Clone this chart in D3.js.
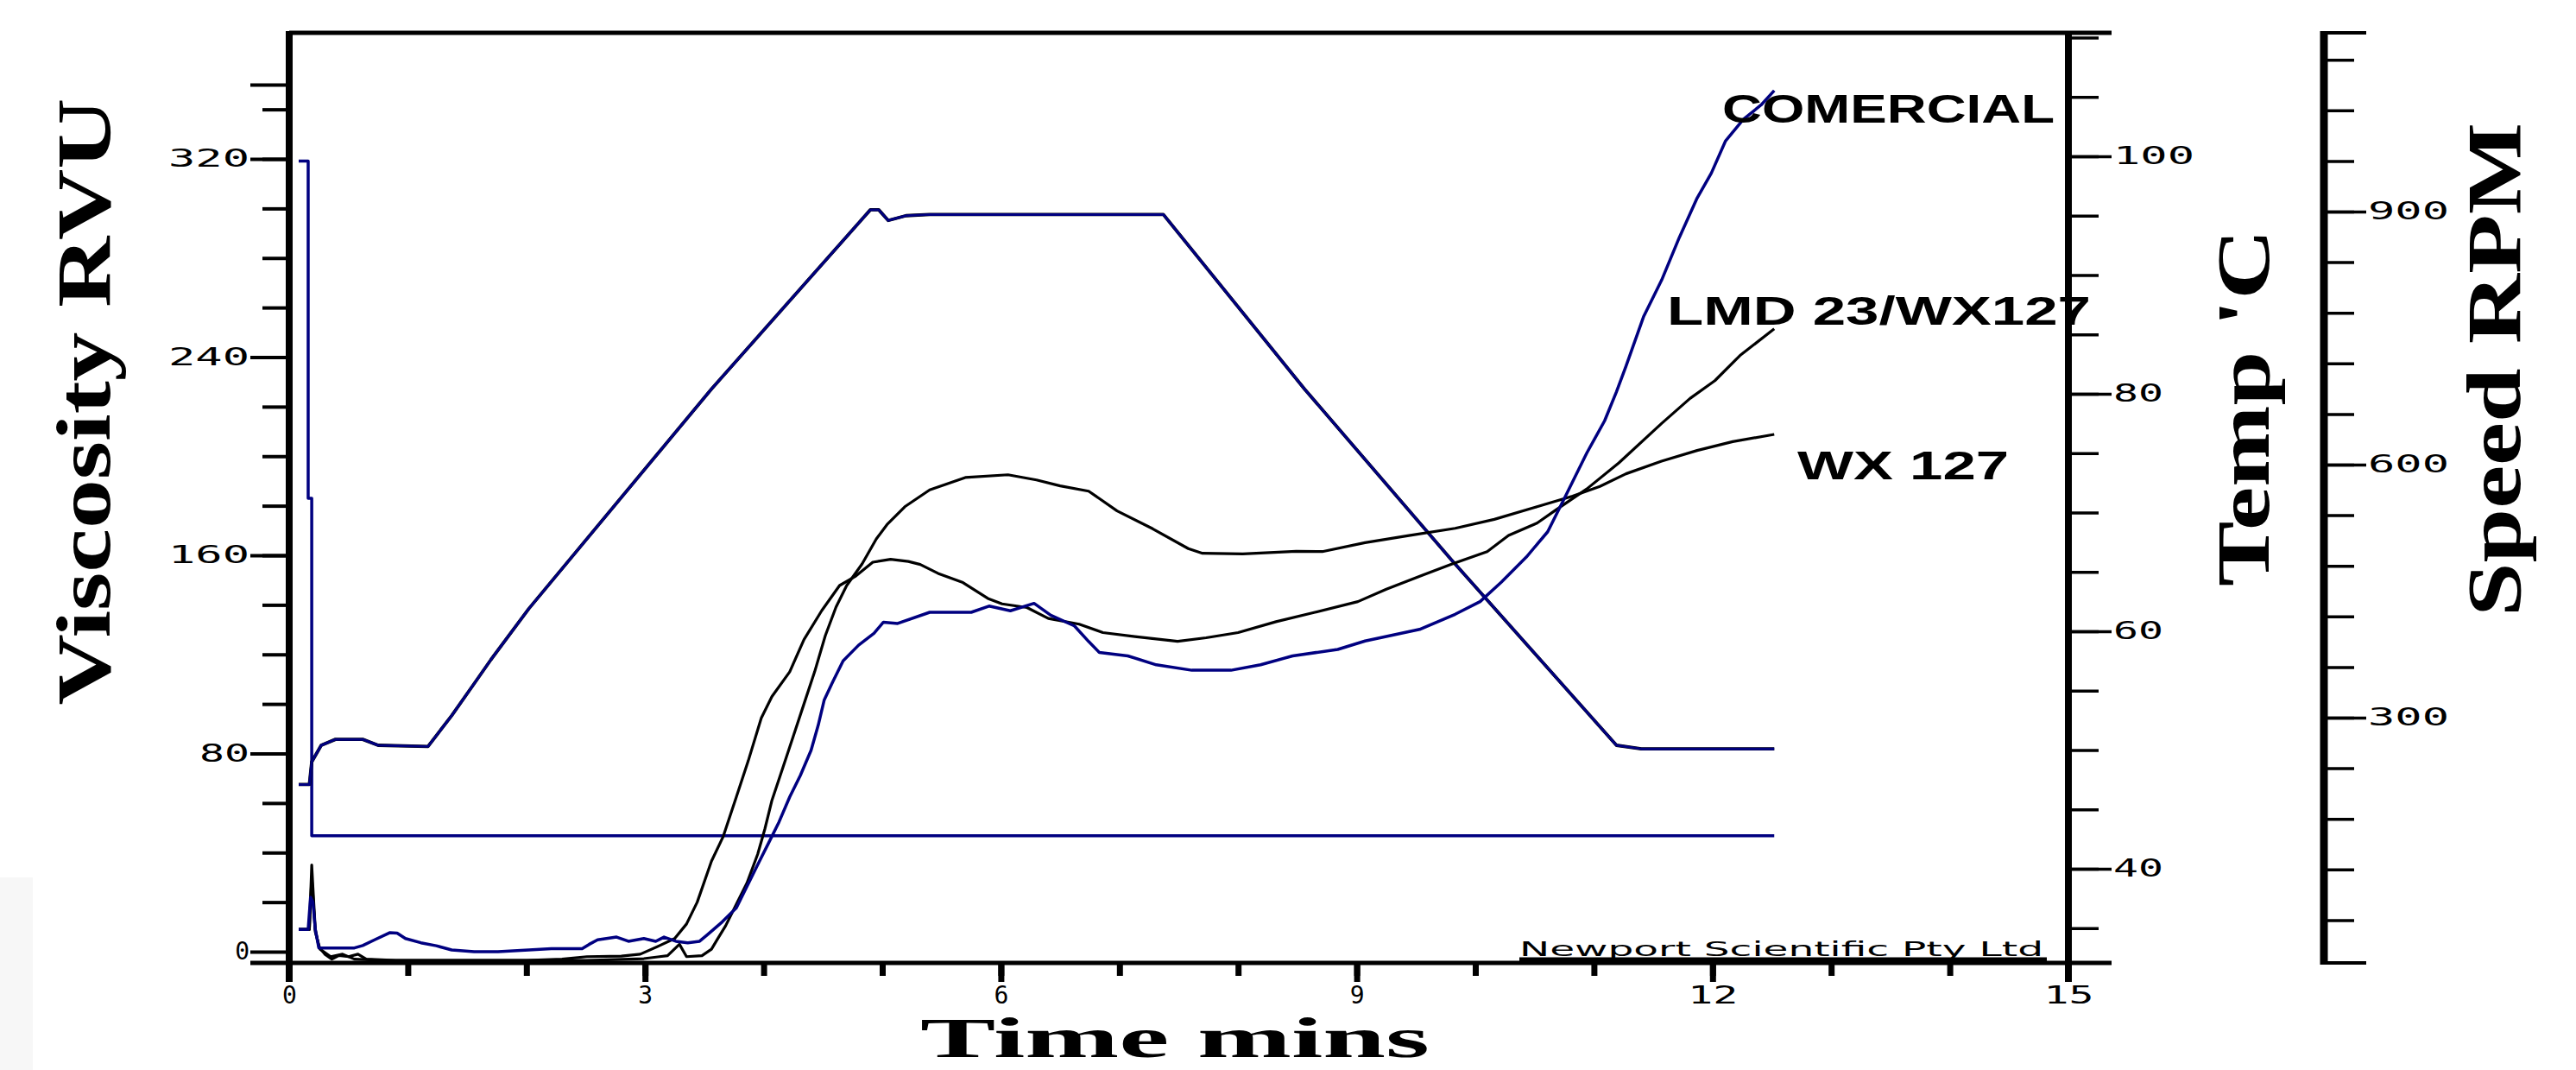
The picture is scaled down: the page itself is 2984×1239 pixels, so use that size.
<!DOCTYPE html>
<html>
<head>
<meta charset="utf-8">
<script src="https://cdn.jsdelivr.net/npm/d3@7"></script>
<style>
  body { margin: 0; background: #fff; }
  svg { display: block; }
</style>
</head>
<body>
<div id="chart"></div>
<script>
// RVA pasting curves, [time (min), value]
var comercial = [[0.08, 9], [0.16, 9], [0.18, 22], [0.2, 20], [0.22, 9], [0.25, 1.5], [0.55, 1.5], [0.62, 2.5],
  [0.72, 4.8], [0.85, 7.7], [0.91, 7.5], [0.98, 5.3], [1.11, 3.6], [1.24, 2.4], [1.37, 0.7], [1.56, 0], [1.76, 0],
  [2.02, 0.7], [2.21, 1.2], [2.47, 1.2], [2.53, 3], [2.6, 4.8], [2.76, 5.9], [2.86, 4.2], [2.99, 5.3], [3.09, 4.2],
  [3.16, 5.9], [3.26, 4.2], [3.36, 3.6], [3.46, 4.2], [3.53, 7], [3.65, 12], [3.77, 17.7], [3.86, 26.4], [3.95, 35.1],
  [4.04, 43.7], [4.13, 52.4], [4.22, 62.5], [4.31, 71.2], [4.4, 81.3], [4.46, 91.4], [4.51, 101.5], [4.58, 108.7],
  [4.67, 117.4], [4.8, 123.7], [4.93, 128.5], [5.01, 133], [5.13, 132.5], [5.4, 137], [5.75, 137], [5.9, 139.5],
  [6.08, 137.6], [6.28, 140.6], [6.42, 135.8], [6.62, 131.5], [6.74, 125.2], [6.83, 120.8], [7.07, 119.4],
  [7.31, 115.8], [7.61, 113.6], [7.94, 113.6], [8.19, 115.8], [8.46, 119.4], [8.84, 122], [9.07, 125.4],
  [9.53, 130.1], [9.83, 136.2], [10.04, 141.3], [10.22, 149.2], [10.43, 159.3], [10.61, 169.5], [10.76, 183.9],
  [10.94, 201.3], [11.09, 214.3], [11.19, 226], [11.27, 236.3], [11.42, 256.5], [11.57, 271], [11.72, 288.3],
  [11.87, 304.2], [11.99, 314.3], [12.11, 327.3], [12.26, 336], [12.41, 341.8], [12.52, 347.6]]

var lmd23 = [[0.08, 9], [0.17, 9], [0.19, 35], [0.2, 26], [0.22, 9], [0.25, 2], [0.3, -1], [0.36, -3], [0.42, -1.5],
  [0.5, -2], [0.58, -1], [0.65, -3], [0.9, -3.5], [1.5, -3.5], [2.0, -3.5], [2.3, -3], [2.51, -2], [2.8, -1.8],
  [2.96, -1], [3.12, 2.4], [3.25, 5.3], [3.35, 11.2], [3.44, 20], [3.56, 36.5], [3.66, 46.6], [3.77, 62.5],
  [3.87, 77], [3.98, 94.3], [4.07, 103], [4.22, 113], [4.34, 126], [4.49, 137.7], [4.64, 147.8], [4.77, 151.4],
  [4.92, 157.2], [5.07, 158.4], [5.22, 157.5], [5.32, 156.3], [5.47, 152.7], [5.68, 149], [5.89, 142.6],
  [6.01, 140.4], [6.22, 138.9], [6.4, 134.5], [6.66, 132.2], [6.86, 128.8], [7.13, 127.2], [7.49, 125.3],
  [7.73, 126.7], [8.0, 128.8], [8.32, 133.2], [8.64, 136.9], [9.01, 141.3], [9.25, 146.3], [9.56, 152.1],
  [9.8, 156.4], [10.1, 161.5], [10.28, 168], [10.52, 173], [10.67, 178], [10.94, 186.8], [11.21, 197.3],
  [11.57, 213.2], [11.81, 223.3], [12.02, 230.5], [12.23, 240.6], [12.52, 251.4]]

var wx127 = [[0.08, 9], [0.17, 9], [0.19, 30], [0.22, 8], [0.26, 1], [0.35, -2], [0.45, -1], [0.55, -3],
  [0.8, -3.5], [1.5, -3.5], [2.5, -3.5], [2.99, -2.8], [3.19, -1.6], [3.29, 3], [3.35, -2], [3.48, -1.6],
  [3.56, 1], [3.61, 5], [3.68, 10.5], [3.77, 19.2], [3.86, 27.8], [3.95, 39.4], [4.01, 49.5], [4.07, 61.1],
  [4.16, 74], [4.25, 87], [4.34, 100], [4.43, 113], [4.52, 127.6], [4.61, 139.1], [4.7, 147.8], [4.83, 156.5],
  [4.95, 166.6], [5.04, 172.4], [5.19, 179.6], [5.4, 186.4], [5.7, 191.4], [6.06, 192.5], [6.3, 190.4],
  [6.5, 188], [6.74, 185.9], [6.98, 177.9], [7.28, 170.7], [7.58, 162.7], [7.7, 160.8], [8.04, 160.6],
  [8.49, 161.6], [8.71, 161.5], [9.07, 165.1], [9.44, 168], [9.83, 170.9], [10.16, 174.5], [10.52, 179.6],
  [10.82, 183.9], [11.05, 187.8], [11.27, 192.9], [11.57, 198], [11.87, 202.3], [12.17, 205.9], [12.52, 208.8]]

var temperature = [[0.08, 47.1], [0.17, 47.1], [0.19, 49], [0.27, 50.4], [0.39, 50.9], [0.62, 50.9],
  [0.75, 50.4], [1.17, 50.3], [1.37, 52.9], [1.56, 55.6], [1.7, 57.6], [2.02, 61.9], [3.56, 80.4], [4.9, 95.5],
  [4.97, 95.5], [5.05, 94.6], [5.2, 95], [5.4, 95.1], [7.37, 95.1], [8.56, 80.4], [9.8, 66], [11.19, 50.4],
  [11.4, 50.1], [12.52, 50.1]]

var speed = [[0.08, 960], [0.16, 960], [0.16, 560], [0.19, 560], [0.19, 160], [12.52, 160]]

var seriesNames = ['COMERCIAL', 'LMD 23/WX127', 'WX 127']

var viscTicks = [0, 80, 160, 240, 320]
var tempTicks = [40, 60, 80, 100]
var speedTicks = [300, 600, 900]
var timeTicks = [0, 3, 6, 9, 12, 15]

var navy = '#000080'
var labelFont = 'DejaVu Sans Mono'

var svg = d3.select('#chart').append('svg')
  .attr('width', 2984)
  .attr('height', 1239)
  .style('background', '#fff')

svg.append('rect').attr('x', 0).attr('y', 1016).attr('width', 38).attr('height', 223).attr('fill', '#f7f7f7')

var x = d3.scaleLinear().domain([0, 15]).range([335, 2396])
var yVisc = d3.scaleLinear().domain([0, 320]).range([1102, 184])
var yTemp = d3.scaleLinear().domain([40, 100]).range([1006, 181])
var ySpeed = d3.scaleLinear().domain([300, 900]).range([831, 245])

// spaced out pixel-font look for the numbers
function spaceLabels (sel) {
  sel.selectAll('text').each(function () {
    var n = this.textContent.length
    if (n > 1) {
      d3.select(this).attr('textLength', n * 36 - 14).attr('lengthAdjust', 'spacingAndGlyphs')
    }
  })
}

function styleAxis (g, tickWidth) {
  g.select('.domain').remove()
  g.attr('font-family', labelFont).attr('font-size', 28)
  g.selectAll('line').attr('stroke', '#000').attr('stroke-width', tickWidth)
  g.selectAll('text').attr('fill', '#000')
}

// viscosity axis (left)
var gViscMinor = svg.append('g').attr('transform', 'translate(335,0)')
  .call(d3.axisLeft(yVisc).tickValues(d3.range(20, 341, 20)).tickSize(31).tickFormat(''))
styleAxis(gViscMinor, 4)

var gVisc = svg.append('g').attr('transform', 'translate(335,0)')
  .call(d3.axisLeft(yVisc).tickValues(viscTicks.concat([350])).tickSize(45).tickPadding(1)
    .tickFormat(function (d) { return d === 350 ? '' : d }))
styleAxis(gVisc, 4)
spaceLabels(gVisc)

// time axis (bottom)
var gTimeMinor = svg.append('g').attr('transform', 'translate(0,1114)')
  .call(d3.axisBottom(x).tickValues(d3.range(0, 16)).tickSize(16).tickFormat(''))
styleAxis(gTimeMinor, 7)

var gTime = svg.append('g').attr('transform', 'translate(0,1114)')
  .call(d3.axisBottom(x).tickValues(timeTicks).tickSize(23).tickPadding(5))
styleAxis(gTime, 7)
spaceLabels(gTime)

// temperature axis (right)
var gTempMinor = svg.append('g').attr('transform', 'translate(2396,0)')
  .call(d3.axisRight(yTemp).tickValues(d3.range(35, 111, 5)).tickSize(35).tickFormat(''))
styleAxis(gTempMinor, 3.5)

var gTemp = svg.append('g').attr('transform', 'translate(2396,0)')
  .call(d3.axisRight(yTemp).tickValues(tempTicks).tickSize(50).tickPadding(2))
styleAxis(gTemp, 3.5)
spaceLabels(gTemp)

// speed axis (far right)
var gSpeedMinor = svg.append('g').attr('transform', 'translate(2692,0)')
  .call(d3.axisRight(ySpeed).tickValues(d3.range(60, 1081, 60)).tickSize(35).tickFormat(''))
styleAxis(gSpeedMinor, 3.5)

var gSpeed = svg.append('g').attr('transform', 'translate(2692,0)')
  .call(d3.axisRight(ySpeed).tickValues(speedTicks).tickSize(49).tickPadding(2))
styleAxis(gSpeed, 3.5)
spaceLabels(gSpeed)

// frame lines
var frame = svg.append('g').attr('stroke', '#000')
frame.append('line').attr('x1', 335).attr('x2', 2446).attr('y1', 38).attr('y2', 38).attr('stroke-width', 5)
frame.append('line').attr('x1', 290).attr('x2', 2446).attr('y1', 1115).attr('y2', 1115).attr('stroke-width', 5)
frame.append('line').attr('x1', 335).attr('x2', 335).attr('y1', 36).attr('y2', 1137).attr('stroke-width', 8)
frame.append('line').attr('x1', 2396).attr('x2', 2396).attr('y1', 36).attr('y2', 1137).attr('stroke-width', 8)
frame.append('line').attr('x1', 2692).attr('x2', 2692).attr('y1', 36).attr('y2', 1117).attr('stroke-width', 9)
frame.append('line').attr('x1', 2688).attr('x2', 2741).attr('y1', 38).attr('y2', 38).attr('stroke-width', 4)
frame.append('line').attr('x1', 2688).attr('x2', 2741).attr('y1', 1115).attr('y2', 1115).attr('stroke-width', 4)

// curves
var lineVisc = d3.line().x(function (d) { return x(d[0]) }).y(function (d) { return yVisc(d[1]) })
var lineTemp = d3.line().x(function (d) { return x(d[0]) }).y(function (d) { return yTemp(d[1]) })
var lineSpeed = d3.line().x(function (d) { return x(d[0]) }).y(function (d) { return ySpeed(d[1]) })

var plot = svg.append('g').attr('fill', 'none').attr('stroke-linejoin', 'round')

plot.append('path').attr('d', lineSpeed(speed)).attr('stroke', navy).attr('stroke-width', 3.5)
plot.append('path').attr('d', lineTemp(temperature)).attr('stroke', '#000').attr('stroke-width', 3.8)
plot.append('path').attr('d', lineTemp(temperature)).attr('stroke', navy).attr('stroke-width', 3)
plot.append('path').attr('d', lineVisc(wx127)).attr('stroke', '#000').attr('stroke-width', 3.2)
plot.append('path').attr('d', lineVisc(lmd23)).attr('stroke', '#000').attr('stroke-width', 3.2)
plot.append('path').attr('d', lineVisc(comercial)).attr('stroke', navy).attr('stroke-width', 3.5)

// series labels
var seriesLabelPos = [{x: 1995, y: 142, w: 385}, {x: 1931, y: 376, w: 491}, {x: 2082, y: 555, w: 245}]
seriesNames.forEach(function (name, i) {
  var p = seriesLabelPos[i]
  svg.append('text')
    .attr('x', p.x).attr('y', p.y)
    .attr('textLength', p.w).attr('lengthAdjust', 'spacingAndGlyphs')
    .attr('font-family', 'Liberation Sans').attr('font-weight', 'bold').attr('font-size', 46)
    .text(name)
})

// maker credit
svg.append('text')
  .attr('x', 1760).attr('y', 1107)
  .attr('textLength', 607).attr('lengthAdjust', 'spacingAndGlyphs')
  .attr('font-family', 'DejaVu Sans').attr('font-size', 23)
  .text('Newport Scientific Pty Ltd')
svg.append('line').attr('x1', 1760).attr('x2', 2371).attr('y1', 1111).attr('y2', 1111)
  .attr('stroke', '#000').attr('stroke-width', 5)

// axis titles
function title (txt, tx, ty, rot, len, size) {
  svg.append('text')
    .attr('transform', 'translate(' + tx + ',' + ty + ')' + (rot ? ' rotate(-90)' : ''))
    .attr('text-anchor', 'middle')
    .attr('textLength', len).attr('lengthAdjust', 'spacingAndGlyphs')
    .attr('font-family', 'Liberation Serif').attr('font-weight', 'bold').attr('font-size', size)
    .text(txt)
}
title('Viscosity RVU', 127, 465, true, 703, 88)
title('Time mins', 1361, 1224, false, 590, 66)
title("Temp 'C", 2628, 472, true, 414, 86)
title('Speed RPM', 2919, 428, true, 572, 88)
</script>
</body>
</html>
